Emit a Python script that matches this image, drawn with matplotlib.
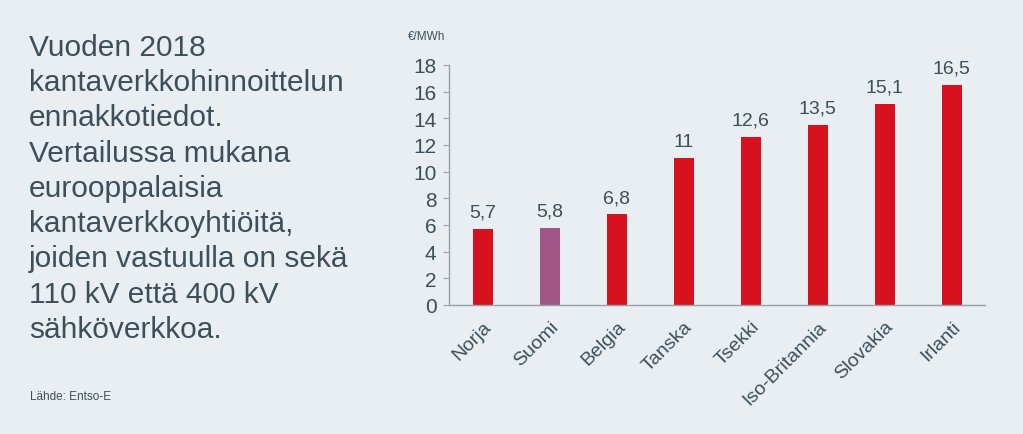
import matplotlib.pyplot as plt

maat = ["Norja", "Suomi", "Belgia", "Tanska", "Tsekki", "Iso-Britannia", "Slovakia", "Irlanti"]
hinnat = [5.7, 5.8, 6.8, 11, 12.6, 13.5, 15.1, 16.5]
korostus = "Suomi"

tausta = "#e9eef2"
tekstivari = "#3e4f5a"
punainen = "#d7111e"
violetti = "#a05787"
harmaa = "#9aa0a6"

plt.rcParams['font.family'] = ['Liberation Sans', 'DejaVu Sans']

fig = plt.figure(figsize=(10.23, 4.35), dpi=100, facecolor=tausta)
ax = fig.add_axes([0.439, 0.2966, 0.524, 0.5517], facecolor=tausta)

varit = [violetti if m == korostus else punainen for m in maat]
x = range(len(maat))
palkit = ax.bar(x, hinnat, width=0.3, color=varit)

for xi, h in zip(x, hinnat):
    ax.text(xi, h + 0.6, f"{h:g}".replace(".", ","), ha="center", va="bottom",
            fontsize=14, color=tekstivari)

ax.set_xlim(-0.5, len(maat) - 0.5)
ax.set_ylim(0, 18)
ax.set_yticks(range(0, 19, 2))
ax.set_xticks(list(x))
ax.set_xticklabels(maat, rotation=45, ha="right", rotation_mode="anchor")
ax.tick_params(axis="y", labelsize=15, labelcolor=tekstivari, color=harmaa, length=4, pad=5)
ax.tick_params(axis="x", labelsize=14, labelcolor=tekstivari, length=0, pad=9)
for s in ["top", "right"]:
    ax.spines[s].set_visible(False)
for s in ["left", "bottom"]:
    ax.spines[s].set_color(harmaa)
    ax.spines[s].set_linewidth(1)

fig.text(0.399, 0.915, "€/MWh", fontsize=8.5, color=tekstivari, va="center")

teksti = ("Vuoden 2018\nkantaverkkohinnoittelun\nennakkotiedot.\nVertailussa mukana\n"
          "eurooppalaisia\nkantaverkkoyhtiöitä,\njoiden vastuulla on sekä\n"
          "110 kV että 400 kV\nsähköverkkoa.")
fig.text(0.028, 0.922, teksti, fontsize=21.5, color=tekstivari, va="top", linespacing=1.33)
fig.text(0.029, 0.088, "Lähde: Entso-E", fontsize=8.5, color=tekstivari, va="center")

fig.savefig("out.png", dpi=100, facecolor=tausta)
